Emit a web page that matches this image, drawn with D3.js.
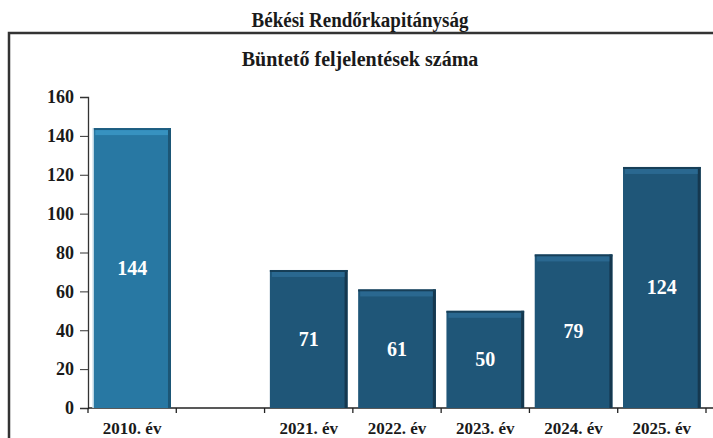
<!DOCTYPE html>
<html>
<head>
<meta charset="utf-8">
<script src="https://cdn.jsdelivr.net/npm/d3@7"></script>
<style>
  body { margin: 0; background: #fff; }
  text { font-family: "Liberation Serif", "Times New Roman", serif; font-weight: bold; }
</style>
</head>
<body>
<div id="chart"></div>
<script>
// chart values
const categories = ["2010. év", "", "2021. év", "2022. év", "2023. év", "2024. év", "2025. év"];
const values = [144, null, 71, 61, 50, 79, 124];
const highlighted = ["2010. év"];
const yTicks = [0, 20, 40, 60, 80, 100, 120, 140, 160];
const title = "Békési Rendőrkapitányság";
const subtitle = "Büntető feljelentések száma";

const WIDTH = 713, HEIGHT = 438;
const margin = { top: 97, right: 7, bottom: 30, left: 88 };
const WIDTHVIS = WIDTH - margin.left - margin.right;
const HEIGHTVIS = HEIGHT - margin.top - margin.bottom;

const svg = d3.select("#chart").append("svg")
    .attr("width", WIDTH)
    .attr("height", HEIGHT);

// frame
svg.append("path")
    .attr("d", `M9,${HEIGHT} V33 H${WIDTH}`)
    .attr("fill", "none")
    .attr("stroke", "#333")
    .attr("stroke-width", 2.5);

// titles
svg.append("text")
    .attr("transform", "translate(360,27) scale(0.95,1)")
    .attr("text-anchor", "middle")
    .attr("font-size", "20px")
    .attr("fill", "#1a1a1a")
    .text(title);

svg.append("text")
    .attr("x", 360).attr("y", 66)
    .attr("text-anchor", "middle")
    .attr("font-size", "20px")
    .attr("fill", "#1a1a1a")
    .text(subtitle);

const data = categories.map((c, i) => ({ cat: c, key: "c" + i, value: values[i] }));

const xScale = d3.scaleBand()
    .domain(data.map(d => d.key))
    .range([0, WIDTHVIS])
    .paddingInner(0.12)
    .paddingOuter(0.06);

const yScale = d3.scaleLinear()
    .domain([0, 160])
    .range([HEIGHTVIS, 0]);

const g = svg.append("g")
    .attr("transform", `translate(${margin.left},${margin.top})`);

// y axis
const ejeY = d3.axisLeft(yScale).tickValues(yTicks).tickSize(8).tickPadding(6);
const gy = g.append("g").call(ejeY);
gy.select(".domain").attr("stroke", "#333").attr("stroke-width", 1.3);
gy.selectAll(".tick line").attr("stroke", "#333");
gy.selectAll(".tick text")
    .attr("font-size", "18px")
    .attr("fill", "#1a1a1a")
    .style("font-family", "'Liberation Serif', serif")
    .style("font-weight", "bold");

// x axis line + boundary ticks
const step = xScale.step();
const gx = g.append("g").attr("transform", `translate(0,${HEIGHTVIS})`);
gx.append("line")
    .attr("x1", 0).attr("x2", WIDTHVIS + 7)
    .attr("stroke", "#222").attr("stroke-width", 1.5);
const bounds = d3.range(categories.length + 1).map(i => i * step);
gx.selectAll(".bt").data(bounds).join("line")
    .attr("class", "bt")
    .attr("x1", d => d).attr("x2", d => d)
    .attr("y1", 0).attr("y2", 5)
    .attr("stroke", "#222").attr("stroke-width", 1.3);
gx.selectAll(".xl").data(data).join("text")
    .attr("class", "xl")
    .attr("x", d => xScale(d.key) + xScale.bandwidth() / 2)
    .attr("y", 26)
    .attr("text-anchor", "middle")
    .attr("font-size", "17px")
    .attr("fill", "#1a1a1a")
    .text(d => d.cat);

// bars
const bars = g.selectAll(".bar").data(data.filter(d => d.value != null)).join("g")
    .attr("class", "bar")
    .attr("transform", d => `translate(${xScale(d.key)},${yScale(d.value)})`);

const isHi = d => highlighted.includes(d.cat);
const bw = xScale.bandwidth();

bars.append("rect")
    .attr("width", bw)
    .attr("height", d => HEIGHTVIS - yScale(d.value))
    .attr("fill", d => isHi(d) ? "#2878a3" : "#1f5678");
// right shadow edge
bars.append("rect")
    .attr("x", bw - 3).attr("width", 3)
    .attr("height", d => HEIGHTVIS - yScale(d.value))
    .attr("fill", d => isHi(d) ? "#1c5676" : "#15384f");
// top bevel
bars.append("rect")
    .attr("width", bw).attr("height", 2)
    .attr("fill", d => isHi(d) ? "#1d5d80" : "#173f58");
bars.append("rect")
    .attr("x", 2).attr("y", 2).attr("width", bw - 5).attr("height", 5)
    .attr("fill", d => isHi(d) ? "#3792c0" : "#2a6890");
// left light edge
bars.filter(isHi).append("rect")
    .attr("x", -1).attr("y", 0).attr("width", 1.5)
    .attr("height", d => HEIGHTVIS - yScale(d.value))
    .attr("fill", "#cfe3ee");

bars.append("text")
    .attr("x", bw / 2)
    .attr("y", d => (HEIGHTVIS - yScale(d.value)) / 2)
    .attr("dy", "0.35em")
    .attr("text-anchor", "middle")
    .attr("font-size", "20px")
    .attr("fill", "#fff")
    .text(d => d.value);
</script>
</body>
</html>
